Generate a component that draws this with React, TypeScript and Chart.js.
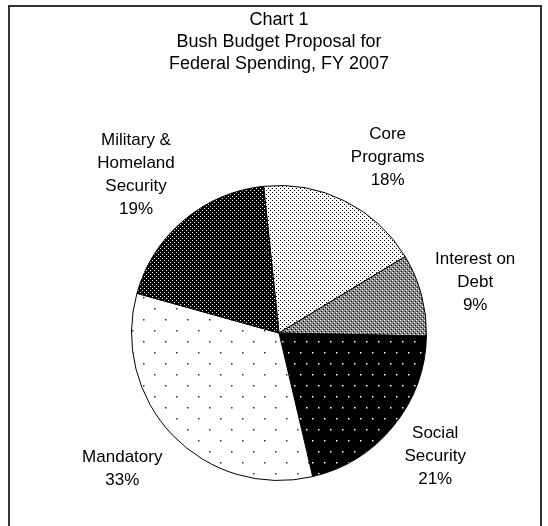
import React, { useEffect, useRef } from 'react';
import { Chart, registerables } from 'chart.js';

Chart.register(...registerables);

const titleLines = ['Chart 1', 'Bush Budget Proposal for', 'Federal Spending, FY 2007'];
const categories = ['Core Programs', 'Interest on Debt', 'Social Security', 'Mandatory', 'Military & Homeland Security'];
const labelLines = [['Core', 'Programs'], ['Interest on', 'Debt'], ['Social', 'Security'], ['Mandatory'], ['Military &', 'Homeland', 'Security']];
const shares = [18, 9, 21, 33, 19];

const FONT = '"Liberation Sans", Arial, Helvetica, sans-serif';

function makePattern(bg: string, dots: [string, number, number][], w: number, h: number, size: number) {
  const c = document.createElement('canvas');
  c.width = w;
  c.height = h;
  const g = c.getContext('2d')!;
  g.fillStyle = bg;
  g.fillRect(0, 0, w, h);
  dots.forEach(([col, x, y]) => {
    g.fillStyle = col;
    g.fillRect(x, y, size, size);
  });
  const ctx = document.createElement('canvas').getContext('2d')!;
  return ctx.createPattern(c, 'repeat') as CanvasPattern;
}

const labelPlugin = {
  id: 'sliceLabels',
  afterDraw(chart: any) {
    const ctx = chart.ctx;
    const meta = chart.getDatasetMeta(0);
    const lh = 23;
    const gap = 14;
    ctx.save();
    ctx.font = `17px ${FONT}`;
    ctx.fillStyle = '#000';
    ctx.textAlign = 'center';
    ctx.textBaseline = 'middle';
    meta.data.forEach((arc: any, i: number) => {
      const p = arc.getProps(['x', 'y', 'startAngle', 'endAngle', 'outerRadius'], true);
      const mid = (p.startAngle + p.endAngle) / 2;
      const lines = [...labelLines[i], `${shares[i]}%`];
      const w = Math.max(...lines.map((l: string) => ctx.measureText(l).width));
      const h = lines.length * lh;
      const boxH = Math.max(h, 3 * lh);
      const r = p.outerRadius + gap;
      const cx = p.x + Math.cos(mid) * r + Math.sign(Math.cos(mid)) * w / 2;
      const cy = p.y + Math.sin(mid) * r + Math.sin(mid) * boxH / 2;
      lines.forEach((l: string, k: number) => {
        ctx.fillText(l, cx, cy - h / 2 + lh / 2 + k * lh);
      });
    });
    ctx.restore();
  },
};

export default function App() {
  const ref = useRef<HTMLCanvasElement>(null);
  useEffect(() => {
    const W = '#ffffff';
    const K = '#000000';
    const patterns = [
      makePattern(W, [[K, 0, 0], [K, 2, 2]], 4, 4, 1),
      makePattern('#8a8a8a', [[W, 0, 0], [W, 2, 2], [K, 1, 3], [K, 3, 1]], 4, 4, 1),
      makePattern(K, [[W, 0, 0], [W, 6, 11]], 12, 22, 1.5),
      makePattern(W, [['#333333', 0, 0], ['#333333', 11, 11]], 22, 22, 1.5),
      makePattern(K, [[W, 0, 0], [W, 2, 2]], 4, 4, 1),
    ];
    const chart = new Chart(ref.current!, {
      type: 'pie',
      data: {
        labels: categories,
        datasets: [
          {
            data: shares,
            backgroundColor: patterns,
            borderColor: '#000000',
            borderWidth: 1,
          },
        ],
      },
      options: {
        animation: false,
        responsive: false,
        rotation: -6,
        layout: { padding: { top: 9, left: 131, right: 121, bottom: 45 } },
        plugins: {
          legend: { display: false },
          tooltip: { enabled: false },
          title: {
            display: true,
            text: titleLines,
            color: '#000000',
            font: { family: FONT, size: 18, weight: 'normal', lineHeight: 22 / 18 },
            padding: { top: 0, bottom: 110 },
          },
        },
      },
      plugins: [labelPlugin],
    });
    return () => chart.destroy();
  }, []);
  return (
    <div style={{ position: 'fixed', left: 0, top: 0, width: 548, height: 526, background: '#fff', overflow: 'hidden' }}>
      <div style={{ position: 'absolute', left: 8, top: 5, width: 530, height: 560, border: '2px solid #333' }} />
      <canvas ref={ref} width={548} height={526} style={{ position: 'absolute', left: 0, top: 0 }} />
    </div>
  );
}
